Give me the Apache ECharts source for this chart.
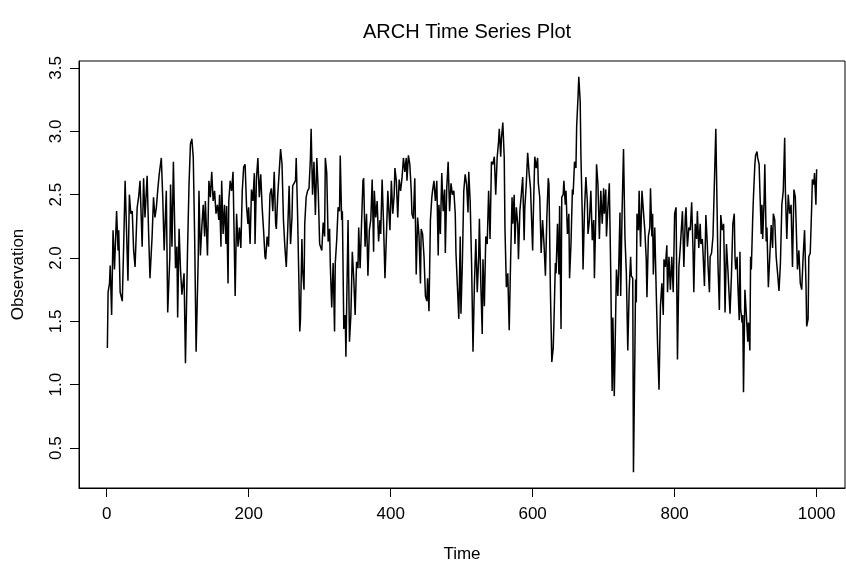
<!DOCTYPE html>
<html>
<head>
<meta charset="utf-8">
<script src="https://cdn.jsdelivr.net/npm/echarts@6/dist/echarts.min.js"></script>
<style>
  html, body { margin: 0; padding: 0; background: #fff; }
  #chart { width: 846px; height: 568px; }
</style>
</head>
<body>
<div id="chart"></div>
<script>
// values (time index, observation)
var time = [1,2,4,5,7,9,11,14,16,17,19,22,24,26,30,32,34,36,38,40,43,45,47,50,52,54,57,59,61,64,66,68,70,72,74,77,79,81,84,86,89,
  90,92,94,97,99,100,102,104,106,109,111,114,116,118,120,122,124,126,129,130,132,134,136,138,139,142,144,146,148,150,152,154,156,158,159,161,162,164,166,168,169,171,172,174,176,178,181,183,185,187,189,
  191,193,195,197,199,200,202,204,206,208,209,211,213,215,217,219,221,223,224,226,228,230,232,234,236,238,239,241,243,245,247,249,251,253,255,257,259,261,262,264,266,267,269,271,272,273,275,276,278,279,281,283,285,287,288,290,
  292,294,296,298,300,301,303,305,307,308,310,312,314,315,317,319,321,322,324,326,328,329,331,332,334,336,337,338,340,342,344,346,348,350,352,354,355,357,359,361,362,364,366,368,370,372,374,376,377,379,381,383,385,386,388,390,392,394,396,
  399,401,403,405,406,408,410,412,414,416,418,420,422,423,425,427,429,430,432,434,436,438,440,442,443,445,447,449,451,452,454,456,458,459,461,463,465,467,468,470,472,474,476,477,479,481,483,485,487,489,491,492,
  496,498,499,501,503,505,507,509,510,512,514,516,518,520,522,524,525,527,529,530,532,534,536,538,539,540,542,544,546,548,550,552,553,555,556,558,560,561,563,565,567,569,571,572,574,575,577,579,580,582,584,586,588,589,591,593,595,597,
  600,601,603,605,607,608,610,612,614,616,618,620,622,623,625,627,629,630,632,633,635,637,638,640,641,643,644,646,647,649,651,652,654,656,657,659,661,662,664,665,667,668,670,671,673,675,677,678,680,682,684,686,687,689,690,692,694,696,
  698,700,701,703,704,706,708,710,712,713,715,716,718,720,721,723,724,726,728,730,732,734,736,738,739,741,742,744,745,746,747,749,750,752,754,756,758,760,761,763,765,766,768,769,770,772,774,776,778,780,782,784,785,787,789,790,792,794,796,798,800,
  802,804,806,808,809,811,813,815,816,818,820,822,824,826,827,829,831,832,834,836,837,839,840,842,844,846,847,849,850,852,854,856,858,860,861,863,865,867,869,870,871,873,875,877,878,880,882,884,885,886,888,889,891,892,893,895,896,897,899,
  901,903,904,906,907,908,910,911,913,914,916,917,919,920,922,923,924,926,927,929,930,932,934,936,938,939,941,943,945,947,949,951,953,955,956,958,960,962,964,966,968,970,971,973,975,977,979,981,983,985,986,988,989,991,993,994,996,997,999,1000];

var obs = [1.29,1.73,1.80,1.94,1.55,2.22,1.91,2.37,2.06,2.22,1.73,1.66,2.11,2.61,1.82,2.50,2.35,2.37,2.06,1.93,2.40,2.48,2.61,2.09,2.63,2.32,2.65,2.22,1.84,2.17,2.48,2.32,2.40,2.54,2.66,2.79,2.48,2.06,2.53,1.57,2.01,
  2.58,2.09,2.76,1.92,2.09,1.53,2.23,1.91,1.71,1.88,1.17,2.09,2.58,2.90,2.94,2.79,2.14,1.26,2.01,2.53,2.02,2.24,2.42,2.17,2.45,2.02,2.61,2.48,2.68,2.45,2.53,2.35,2.42,2.30,2.50,2.09,2.61,2.19,2.42,2.11,2.41,1.80,2.45,2.61,2.53,2.68,1.70,2.35,2.09,2.24,2.08,
  2.53,2.72,2.74,2.41,2.27,2.40,2.11,2.54,2.45,2.67,2.11,2.63,2.79,2.48,2.66,2.40,2.22,2.01,1.99,2.17,2.09,2.50,2.55,2.37,2.68,2.27,2.23,2.50,2.68,2.86,2.74,2.30,2.09,1.93,2.22,2.57,2.11,2.32,2.57,2.58,2.61,2.79,2.32,1.75,1.42,1.52,2.15,1.91,1.75,2.27,2.48,2.53,2.55,2.79,3.02,2.50,
  2.76,2.34,2.79,2.53,2.11,2.10,2.06,2.28,2.17,2.79,2.67,2.13,2.23,1.95,1.61,1.96,1.42,1.96,2.14,2.40,2.37,2.81,2.30,2.37,1.44,1.55,1.22,1.60,2.30,1.34,1.55,2.05,1.84,1.55,1.97,1.92,2.24,1.92,2.27,2.61,2.63,2.09,2.35,1.86,2.22,2.30,2.62,2.05,2.53,2.32,2.45,2.13,2.30,2.19,2.62,2.27,1.84,2.17,2.53,
  2.22,2.61,2.35,2.50,2.71,2.61,2.32,2.62,2.53,2.63,2.79,2.68,2.79,2.61,2.81,2.74,2.53,2.35,2.31,2.63,1.87,2.32,2.17,1.80,2.23,2.19,2.01,1.70,1.66,1.84,1.58,2.30,2.48,2.53,2.61,2.45,2.61,2.02,2.42,2.19,2.67,2.37,2.54,2.04,2.55,2.76,2.37,2.59,2.50,2.53,2.35,2.04,
  1.52,2.17,1.56,1.96,2.53,2.66,2.58,2.36,2.68,2.45,1.96,1.26,1.80,2.15,1.73,2.01,2.31,1.80,1.40,1.99,1.62,2.17,2.11,2.53,2.35,2.15,2.76,2.74,2.80,2.50,2.79,2.92,3.02,2.80,2.94,3.07,2.79,2.24,1.77,1.88,1.43,1.99,2.48,2.27,2.50,2.11,2.40,2.27,1.99,2.37,2.50,2.64,2.14,2.40,2.58,2.83,2.67,2.55,
  2.06,2.35,2.80,2.71,2.79,2.59,2.48,2.04,2.30,2.11,1.86,2.32,2.63,2.58,1.75,1.18,1.29,1.49,1.96,1.88,2.27,1.87,2.41,1.44,2.48,2.50,2.61,2.42,2.53,2.19,2.35,1.84,2.11,2.54,2.50,2.76,2.71,3.04,3.28,3.43,3.23,2.81,2.32,1.91,2.37,2.64,2.45,2.19,2.30,2.53,2.14,2.30,1.84,2.35,2.74,2.58,2.15,2.53,
  2.27,2.55,2.35,2.54,2.17,2.40,2.59,1.88,0.95,1.53,0.91,1.24,1.91,1.70,1.87,2.36,1.70,2.37,2.86,2.17,1.88,1.27,1.75,2.01,1.86,1.84,0.31,1.24,1.83,1.65,2.35,2.22,2.53,2.09,2.53,2.37,2.22,1.99,1.69,2.17,2.24,2.55,2.17,2.35,1.87,2.24,1.75,1.31,0.96,1.62,1.80,1.55,1.99,1.93,2.10,1.73,2.01,1.75,2.01,1.73,2.35,
  2.40,1.20,1.93,2.09,2.09,2.37,1.93,2.32,2.40,2.09,2.24,2.22,2.44,2.04,1.73,2.27,2.15,2.37,2.08,2.27,2.11,2.15,2.04,1.78,2.34,2.11,1.95,1.73,2.01,2.04,2.17,2.17,3.02,2.32,1.96,1.59,2.34,2.22,2.27,1.96,1.57,2.11,1.91,1.91,1.56,1.86,2.27,2.35,2.01,1.91,2.01,1.80,1.51,2.05,1.60,1.49,1.55,0.94,1.75,
  1.55,1.34,1.49,1.27,2.01,1.91,2.32,2.48,2.74,2.81,2.84,2.79,2.74,2.55,2.19,2.42,2.15,2.45,2.74,2.13,2.24,1.77,2.01,2.26,2.08,2.35,2.30,2.01,1.88,1.74,1.96,2.42,2.53,2.95,2.53,2.15,2.50,2.35,2.42,1.93,2.54,2.48,2.30,1.91,2.06,1.80,1.75,2.01,2.22,1.80,1.46,1.52,2.01,2.04,2.40,2.62,2.58,2.67,2.42,2.70];

var xTicks = [0, 200, 400, 600, 800, 1000];
var yTicks = [0.5, 1.0, 1.5, 2.0, 2.5, 3.0, 3.5];

var chart = echarts.init(document.getElementById('chart'));
var font = 'Liberation Sans, Arial, sans-serif';

chart.setOption({
  animation: false,
  backgroundColor: '#fff',
  title: {
    text: 'ARCH Time Series Plot',
    left: 462,
    textAlign: 'center',
    top: 17,
    textStyle: { fontFamily: font, fontSize: 20, fontWeight: 'normal', color: '#000' }
  },
  grid: {
    left: 79, right: 1, top: 61, bottom: 72,
    show: true, borderColor: '#000', borderWidth: 1, backgroundColor: 'transparent'
  },
  xAxis: {
    type: 'value',
    min: -38.96,
    max: 1039.96,
    name: 'Time',
    nameLocation: 'middle',
    nameGap: 58,
    nameTextStyle: { fontFamily: font, fontSize: 17, color: '#000' },
    axisLine: { show: true, onZero: false, lineStyle: { color: '#000', width: 1 } },
    axisTick: { show: true, length: 9, customValues: xTicks, lineStyle: { color: '#000' } },
    axisLabel: {
      customValues: xTicks, margin: 18, fontFamily: font, fontSize: 17, color: '#000',
      formatter: function (v) { return String(v); }
    },
    splitLine: { show: false }
  },
  yAxis: {
    type: 'value',
    min: 0.185,
    max: 3.555,
    name: 'Observation',
    nameLocation: 'middle',
    nameRotate: 90,
    nameGap: 52,
    nameTextStyle: { fontFamily: font, fontSize: 17, color: '#000' },
    axisLine: { show: true, onZero: false, lineStyle: { color: '#000', width: 1 } },
    axisTick: { show: true, length: 9, customValues: yTicks, lineStyle: { color: '#000' } },
    axisLabel: {
      customValues: yTicks, rotate: 90, margin: 14,
      fontFamily: font, fontSize: 17, color: '#000',
      formatter: function (v) { return v.toFixed(1); }
    },
    splitLine: { show: false }
  },
  series: [{
    type: 'line',
    data: time.map(function (t, i) { return [t, obs[i]]; }),
    showSymbol: false,
    lineStyle: { color: '#000', width: 1.5 }
  }]
});
</script>
</body>
</html>
